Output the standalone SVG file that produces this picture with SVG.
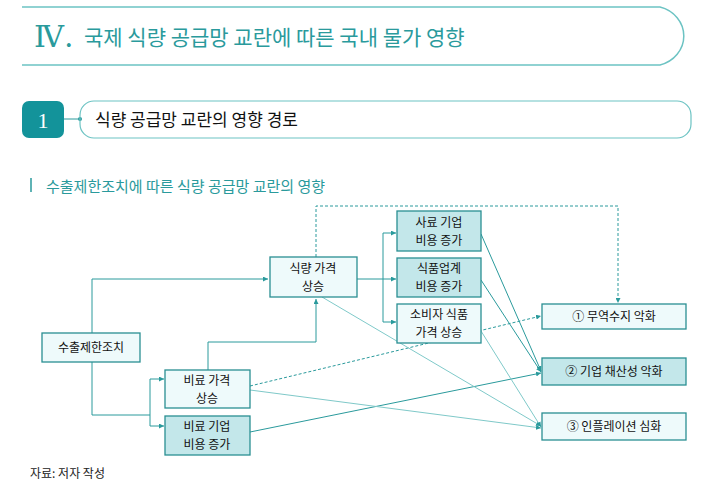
<svg xmlns="http://www.w3.org/2000/svg" width="718" height="497" viewBox="0 0 718 497">
<style>
text{font-family:"Noto Sans CJK KR","Noto Sans",sans-serif;}
.n{stroke:#2a8f92;stroke-width:1.3}
.l{fill:#eefafb}.d{fill:#c3e7ea}
.t{font-size:12px;fill:#111;text-anchor:middle}
.c{fill:none;stroke:#2a9a9c;stroke-width:1}
.f{fill:none;stroke:#7fc9c9;stroke-width:1}
.ds{stroke-dasharray:3,2}
</style>
<defs><marker id="a" viewBox="0 0 6 6" refX="6" refY="3" markerWidth="5" markerHeight="5" orient="auto"><path d="M0,0L6,3L0,6z" fill="#2a9a9c"/></marker></defs>
<rect width="718" height="497" fill="#fff"/>
<g id="header">
<path d="M22,7H660a32,30 0 0 1 0,58H22" fill="none" stroke="#6cc3c3" stroke-width="1.5"/>
<text x="34" y="47" font-size="30" fill="#2a9a9c" style="font-family:'DejaVu Serif',serif">Ⅳ.</text>
<text x="84" y="45" font-size="21" fill="#2a9a9c">국제 식량 공급망 교란에 따른 국내 물가 영향</text>
<rect x="22" y="101" width="42" height="37" rx="7" fill="#13939a"/>
<text x="43" y="128" font-size="22" fill="#fff" text-anchor="middle" style="font-family:'Liberation Serif',serif">1</text>
<line x1="64" y1="119" x2="80" y2="119" stroke="#2a9a9c"/><circle cx="80" cy="119" r="2" fill="#2a9a9c"/>
<rect x="80" y="101" width="611" height="37" rx="14" fill="none" stroke="#6cc3c3" stroke-width="1.2"/>
<text x="95" y="126" font-size="17" fill="#111">식량 공급망 교란의 영향 경로</text>
<line x1="31" y1="178" x2="31" y2="192" stroke="#2a9a9c" stroke-width="1.5"/>
<text x="46" y="192" font-size="15" fill="#2a9a9c">수출제한조치에 따른 식량 공급망 교란의 영향</text>
</g>
<g id="connectors">
<polyline class="c" points="92,333 92,279 268,279" marker-end="url(#a)"/>
<polyline class="c" points="92,362 92,415 150,415"/>
<polyline class="c" points="150,379 150,426"/>
<line class="c" x1="150" y1="379" x2="164" y2="379" marker-end="url(#a)"/>
<line class="c" x1="150" y1="426" x2="164" y2="426" marker-end="url(#a)"/>
<polyline class="c" points="208,370 208,342 316,342 316,299" marker-end="url(#a)"/>
<line class="c" x1="357" y1="279" x2="396" y2="279" marker-end="url(#a)"/>
<polyline class="c" points="383,233 383,322"/>
<line class="c" x1="383" y1="233" x2="396" y2="233" marker-end="url(#a)"/>
<line class="c" x1="383" y1="322" x2="396" y2="322" marker-end="url(#a)"/>
<polyline class="c ds" points="316,257 316,206 618,206 618,303" marker-end="url(#a)"/>
<line class="c ds" x1="250" y1="386" x2="541" y2="316" marker-end="url(#a)"/>
<line class="c" x1="481" y1="234" x2="541" y2="371" marker-end="url(#a)"/>
<line class="c" x1="481" y1="280" x2="541" y2="372" marker-end="url(#a)"/>
<line class="c" x1="250" y1="432" x2="541" y2="373" marker-end="url(#a)"/>
<line class="f" x1="322" y1="297" x2="541" y2="426" marker-end="url(#a)"/>
<line class="f" x1="481" y1="331" x2="541" y2="427" marker-end="url(#a)"/>
<line class="f" x1="250" y1="390" x2="541" y2="428" marker-end="url(#a)"/>
</g>
<g id="n1"><rect class="n l" x="42" y="333" width="98" height="29"/><text class="t" x="91" y="352">수출제한조치</text></g>
<g id="n2"><rect class="n l" x="270" y="257" width="87" height="40"/><text class="t" x="313" y="273">식량 가격</text><text class="t" x="313" y="291">상승</text></g>
<g id="n3"><rect class="n d" x="397" y="211" width="84" height="40"/><text class="t" x="439" y="227">사료 기업</text><text class="t" x="439" y="245">비용 증가</text></g>
<g id="n4"><rect class="n d" x="397" y="258" width="84" height="39"/><text class="t" x="439" y="273">식품업계</text><text class="t" x="439" y="291">비용 증가</text></g>
<g id="n5"><rect class="n l" x="397" y="304" width="84" height="39"/><text class="t" x="439" y="319">소비자 식품</text><text class="t" x="439" y="337">가격 상승</text></g>
<g id="n6"><rect class="n l" x="165" y="370" width="85" height="38"/><text class="t" x="207" y="385">비료 가격</text><text class="t" x="207" y="403">상승</text></g>
<g id="n7"><rect class="n d" x="165" y="416" width="85" height="39"/><text class="t" x="207" y="431">비료 기업</text><text class="t" x="207" y="449">비용 증가</text></g>
<g id="r1"><rect class="n l" x="542" y="304" width="144" height="25"/><text class="t" x="614" y="321">① 무역수지 악화</text></g>
<g id="r2"><rect class="n d" x="542" y="358" width="144" height="27"/><text class="t" x="614" y="376">② 기업 채산성 악화</text></g>
<g id="r3"><rect class="n l" x="542" y="413" width="144" height="27"/><text class="t" x="614" y="431">③ 인플레이션 심화</text></g>
<text x="30" y="478" font-size="12" fill="#222">자료: 저자 작성</text>
</svg>
